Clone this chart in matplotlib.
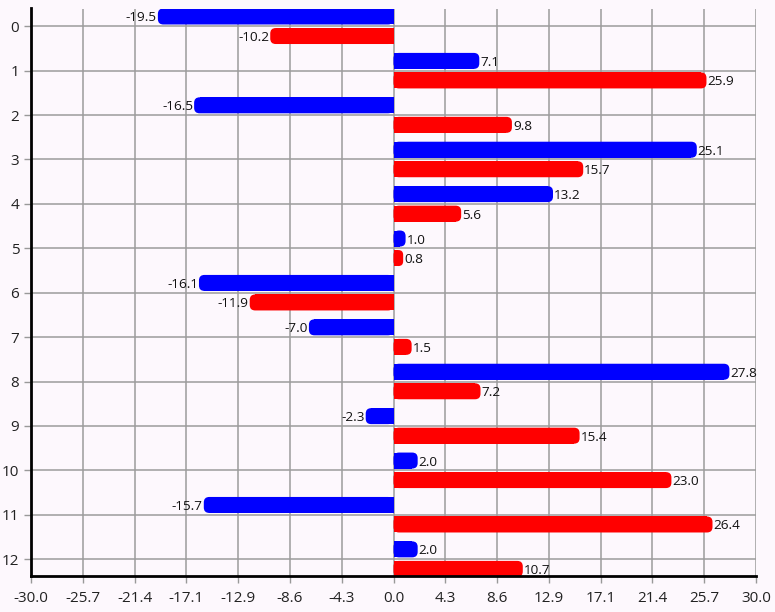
import numpy as np
import matplotlib
matplotlib.use("Agg")
import matplotlib.pyplot as plt
from matplotlib.patches import FancyBboxPatch

categories = list(range(13))
blue_vals = [-19.5, 7.1, -16.5, 25.1, 13.2, 1.0, -16.1, -7.0, 27.8, -2.3, 2.0, -15.7, 2.0]
red_vals = [-10.2, 25.9, 9.8, 15.7, 5.6, 0.8, -11.9, 1.5, 7.2, 15.4, 23.0, 26.4, 10.7]
x_ticks = np.linspace(-30, 30, 15)
x_tick_labels = [f"{t:.1f}" for t in x_ticks]

plt.rcParams['font.family'] = ['Open Sans', 'DejaVu Sans']

W, H, DPI = 775, 612, 100
fig = plt.figure(figsize=(W / DPI, H / DPI), dpi=DPI, facecolor='#fdf8fd')
L, R, T, B = 31, 756, 8.5, 576
ax = fig.add_axes([L / W, (H - B) / H, (R - L) / W, (B - T) / H])
ax.set_facecolor('#fdf8fd')

xlim = (-30, 30)
ylim = (12.38, -0.40)
ax.set_xlim(*xlim)
ax.set_ylim(*ylim)

px_per_x = (R - L) / (xlim[1] - xlim[0])
px_per_y = (B - T) / abs(ylim[0] - ylim[1])
aspect = (1 / px_per_y) / (1 / px_per_x)
radius_px = 5.5
r = radius_px / px_per_x

bar_h = 0.36
offsets = {'blue': -0.22, 'red': 0.22}
series = [(blue_vals, '#0000ff', offsets['blue']), (red_vals, '#ff0000', offsets['red'])]

for vals, color, off in series:
    for c, v in zip(categories, vals):
        yc = c + off
        s = 1 if v >= 0 else -1
        inner = v - s * r
        if s * inner > 0:
            ax.barh(yc, inner, height=bar_h, left=0, color=color, zorder=3, linewidth=0)
        x0 = min(0, v)
        w = abs(v)
        patch = FancyBboxPatch((x0, yc - bar_h / 2), w, bar_h,
                               boxstyle=f"round,pad=0,rounding_size={min(r, w / 2)}",
                               mutation_aspect=aspect, facecolor=color, edgecolor='none',
                               zorder=3)
        ax.add_patch(patch)
        ax.annotate(f"{v:.1f}", xy=(v, yc), xytext=(1 * s, -5), textcoords='offset pixels',
                    ha='left' if s > 0 else 'right', va='baseline', fontsize=9.7,
                    color='#111111', zorder=4)

ax.set_xticks(x_ticks)
ax.set_xticklabels(x_tick_labels)
ax.set_yticks(categories)
ax.set_yticklabels([str(c) for c in categories])
ax.grid(True, color='#9c9c9c', linewidth=1.1, zorder=0)
ax.set_axisbelow(True)
for side in ['top', 'right']:
    ax.spines[side].set_visible(False)
for side in ['left', 'bottom']:
    ax.spines[side].set_color('black')
    ax.spines[side].set_linewidth(2)
    ax.spines[side].set_zorder(5)
ax.tick_params(axis='both', colors='#999999', length=5, width=1, labelsize=11,
               labelcolor='#222222')
ax.tick_params(axis='x', pad=6)

fig.savefig('out.png', dpi=DPI, facecolor=fig.get_facecolor())
